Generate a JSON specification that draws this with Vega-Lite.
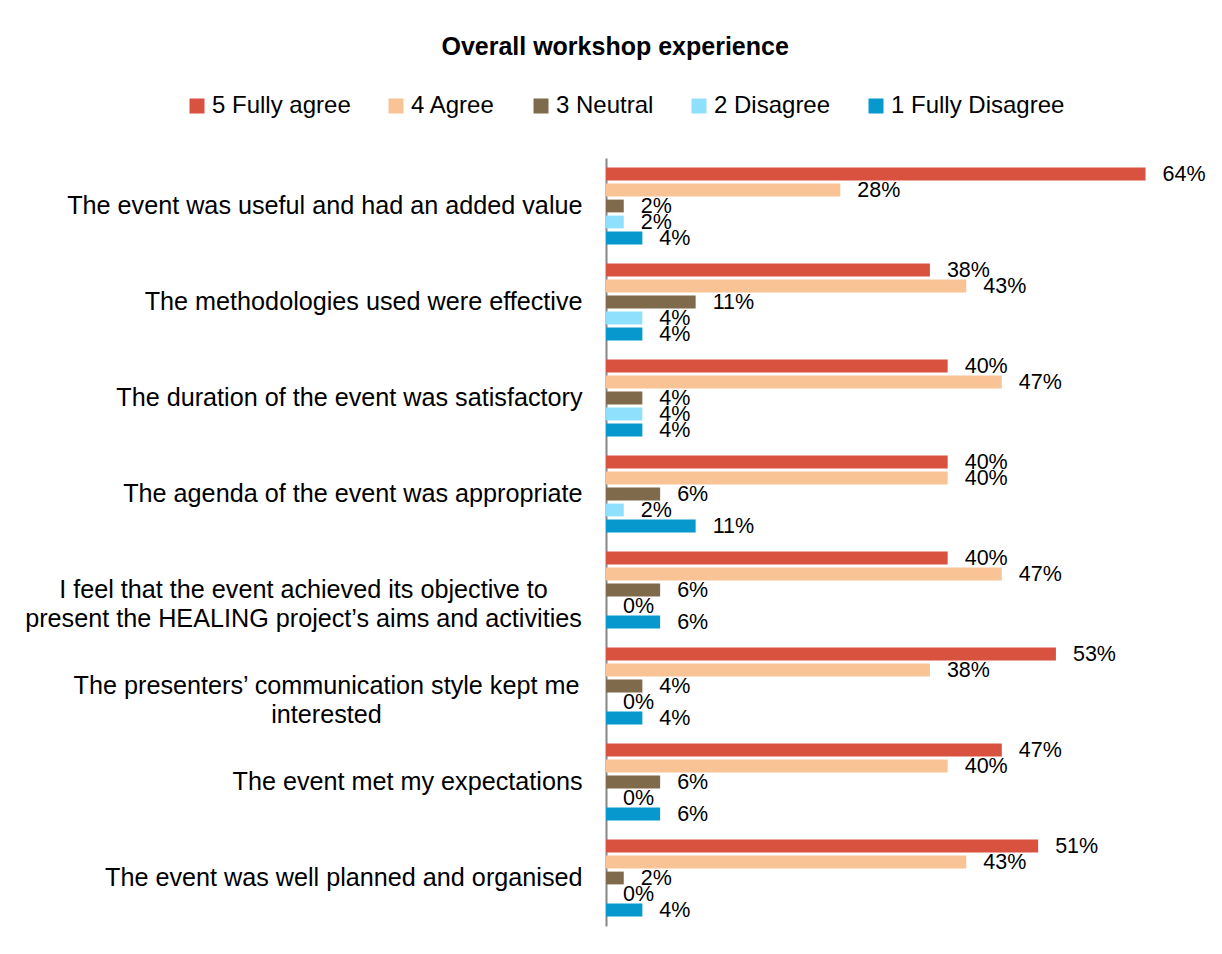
{
  "$schema": "https://vega.github.io/schema/vega-lite/v6.json",
  "width": 592,
  "height": 768,
  "autosize": {"type": "none"},
  "padding": {"left": 606, "top": 158, "right": 24, "bottom": 28},
  "background": "white",
  "config": {"view": {"stroke": null}, "font": "Liberation Sans"},
  "title": {
    "text": "Overall workshop experience",
    "font": "Liberation Sans",
    "fontSize": 25,
    "fontWeight": "bold",
    "color": "#000000",
    "anchor": "middle",
    "frame": "bounds",
    "offset": 34
  },
  "data": {
    "values": [
      {"q": "The event was useful and had an added value", "r": "5 Fully agree", "v": 0.638},
      {"q": "The event was useful and had an added value", "r": "4 Agree", "v": 0.277},
      {"q": "The event was useful and had an added value", "r": "3 Neutral", "v": 0.021},
      {"q": "The event was useful and had an added value", "r": "2 Disagree", "v": 0.021},
      {"q": "The event was useful and had an added value", "r": "1 Fully Disagree", "v": 0.043},
      {"q": "The methodologies used were effective", "r": "5 Fully agree", "v": 0.383},
      {"q": "The methodologies used were effective", "r": "4 Agree", "v": 0.426},
      {"q": "The methodologies used were effective", "r": "3 Neutral", "v": 0.106},
      {"q": "The methodologies used were effective", "r": "2 Disagree", "v": 0.043},
      {"q": "The methodologies used were effective", "r": "1 Fully Disagree", "v": 0.043},
      {"q": "The duration of the event was satisfactory", "r": "5 Fully agree", "v": 0.404},
      {"q": "The duration of the event was satisfactory", "r": "4 Agree", "v": 0.468},
      {"q": "The duration of the event was satisfactory", "r": "3 Neutral", "v": 0.043},
      {"q": "The duration of the event was satisfactory", "r": "2 Disagree", "v": 0.043},
      {"q": "The duration of the event was satisfactory", "r": "1 Fully Disagree", "v": 0.043},
      {"q": "The agenda of the event was appropriate", "r": "5 Fully agree", "v": 0.404},
      {"q": "The agenda of the event was appropriate", "r": "4 Agree", "v": 0.404},
      {"q": "The agenda of the event was appropriate", "r": "3 Neutral", "v": 0.064},
      {"q": "The agenda of the event was appropriate", "r": "2 Disagree", "v": 0.021},
      {"q": "The agenda of the event was appropriate", "r": "1 Fully Disagree", "v": 0.106},
      {"q": "I feel that the event achieved its objective to|present the HEALING project’s aims and activities", "r": "5 Fully agree", "v": 0.404},
      {"q": "I feel that the event achieved its objective to|present the HEALING project’s aims and activities", "r": "4 Agree", "v": 0.468},
      {"q": "I feel that the event achieved its objective to|present the HEALING project’s aims and activities", "r": "3 Neutral", "v": 0.064},
      {"q": "I feel that the event achieved its objective to|present the HEALING project’s aims and activities", "r": "2 Disagree", "v": 0},
      {"q": "I feel that the event achieved its objective to|present the HEALING project’s aims and activities", "r": "1 Fully Disagree", "v": 0.064},
      {"q": "The presenters’ communication style kept me|interested", "r": "5 Fully agree", "v": 0.532},
      {"q": "The presenters’ communication style kept me|interested", "r": "4 Agree", "v": 0.383},
      {"q": "The presenters’ communication style kept me|interested", "r": "3 Neutral", "v": 0.043},
      {"q": "The presenters’ communication style kept me|interested", "r": "2 Disagree", "v": 0},
      {"q": "The presenters’ communication style kept me|interested", "r": "1 Fully Disagree", "v": 0.043},
      {"q": "The event met my expectations", "r": "5 Fully agree", "v": 0.468},
      {"q": "The event met my expectations", "r": "4 Agree", "v": 0.404},
      {"q": "The event met my expectations", "r": "3 Neutral", "v": 0.064},
      {"q": "The event met my expectations", "r": "2 Disagree", "v": 0},
      {"q": "The event met my expectations", "r": "1 Fully Disagree", "v": 0.064},
      {"q": "The event was well planned and organised", "r": "5 Fully agree", "v": 0.511},
      {"q": "The event was well planned and organised", "r": "4 Agree", "v": 0.426},
      {"q": "The event was well planned and organised", "r": "3 Neutral", "v": 0.021},
      {"q": "The event was well planned and organised", "r": "2 Disagree", "v": 0},
      {"q": "The event was well planned and organised", "r": "1 Fully Disagree", "v": 0.043}
    ]
  },
  "encoding": {
    "y": {
      "field": "q",
      "type": "nominal",
      "sort": null,
      "scale": {"paddingInner": 0, "paddingOuter": 0},
      "axis": {
        "title": null,
        "ticks": false,
        "domainColor": "#868686",
        "domainWidth": 2,
        "labelFont": "Liberation Sans",
        "labelFontSize": 25.2,
        "labelColor": "#000000",
        "labelLimit": 800,
        "labelLineHeight": 29,
        "labelExpr": "split(datum.value, '|')",
        "labelAlign": {"condition": {"test": "datum.value === 'The presenters’ communication style kept me|interested' || datum.value === 'I feel that the event achieved its objective to|present the HEALING project’s aims and activities'", "value": "center"}, "value": "right"},
        "labelPadding": {"condition": [{"test": "datum.value === 'The presenters’ communication style kept me|interested'", "value": 280}, {"test": "datum.value === 'I feel that the event achieved its objective to|present the HEALING project’s aims and activities'", "value": 303}], "value": 24}
      }
    },
    "yOffset": {
      "field": "r",
      "type": "nominal",
      "scale": {
        "domain": ["5 Fully agree", "4 Agree", "3 Neutral", "2 Disagree", "1 Fully Disagree"],
        "paddingInner": 0.2,
        "paddingOuter": 0.6
      }
    },
    "x": {
      "field": "v",
      "type": "quantitative",
      "scale": {"domain": [0, 0.7], "nice": false},
      "axis": null
    }
  },
  "layer": [
    {
      "mark": {"type": "bar"},
      "encoding": {
        "color": {
          "field": "r",
          "type": "nominal",
          "scale": {
            "domain": ["5 Fully agree", "4 Agree", "3 Neutral", "2 Disagree", "1 Fully Disagree"],
            "range": ["#D9513F", "#F9C396", "#7F6A4C", "#8FE0FC", "#0799CE"]
          },
          "legend": {
            "title": null,
            "orient": "none",
            "direction": "horizontal",
            "legendX": -421,
            "legendY": -64,
            "symbolType": "square",
            "symbolSize": 225,
            "symbolStrokeWidth": 0,
            "symbolOpacity": 1,
            "labelFont": "Liberation Sans",
            "labelFontSize": 24,
            "labelColor": "#000000",
            "labelOffset": 3,
            "labelLimit": 400,
            "columnPadding": 33
          }
        }
      }
    },
    {
      "mark": {"type": "text", "align": "left", "baseline": "middle", "dx": 17, "dy": 1, "font": "Liberation Sans", "fontSize": 21.5, "color": "#000000"},
      "encoding": {
        "text": {"field": "v", "type": "quantitative", "format": ".0%"}
      }
    }
  ]
}
